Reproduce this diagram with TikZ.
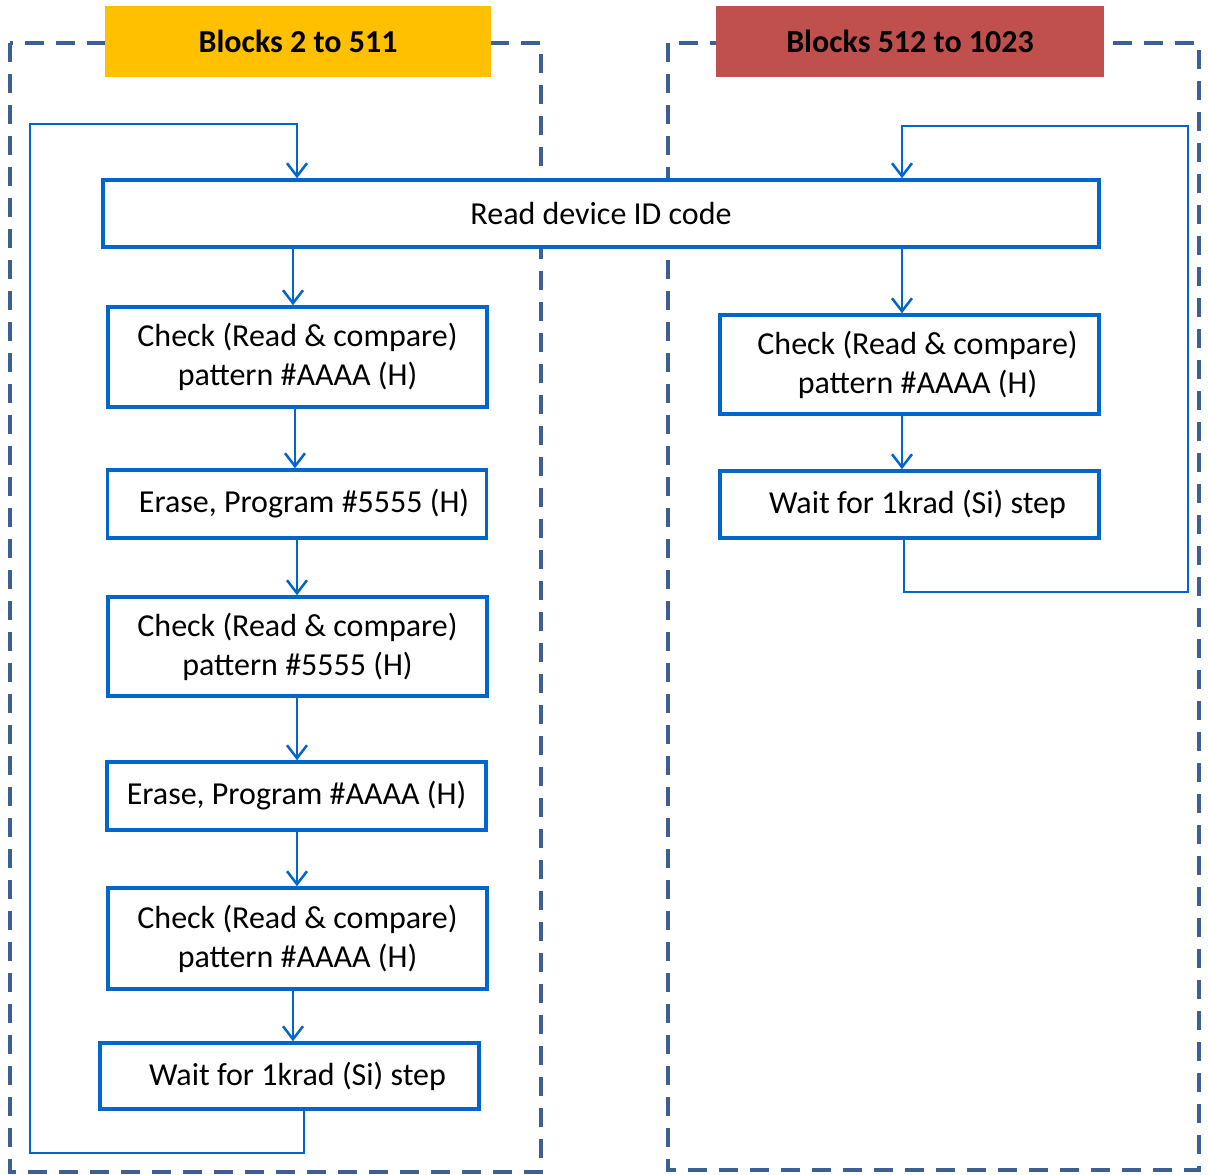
\documentclass[tikz,border=0pt]{standalone}
\usepackage{fontspec}
\setmainfont{Carlito}
\usetikzlibrary{arrows.meta}
\definecolor{flowblue}{RGB}{0,102,204}
\definecolor{frameblue}{RGB}{62,95,145}
\definecolor{headyellow}{RGB}{255,192,0}
\definecolor{headred}{RGB}{192,80,77}

\begin{document}
\begin{tikzpicture}[x=1pt, y=-1pt,
    font=\fontsize{32}{39}\selectfont,
    stepbox/.style={rectangle, draw=flowblue, fill=white, line width=3.5pt,
                    align=center, inner sep=0pt, minimum width=379pt},
    header/.style={rectangle, inner sep=0pt, minimum height=71pt,
                   font=\fontsize{32}{39}\selectfont\bfseries},
    frame/.style={draw=frameblue, line width=4.5pt, dash pattern=on 19pt off 12pt},
    arrow/.style={-{Straight Barb[length=13pt, width=20pt]}, draw=flowblue, line width=2.5pt}
]
\useasboundingbox (0,0) rectangle (1208,1175);

% dashed block frames
\draw[frame] (10,43) rectangle (541,1172);
\draw[frame] (668,43) rectangle (1199,1170);

\node[header, fill=headyellow, minimum width=386pt] (hleft) at (298,41.5) {Blocks 2 to 511};
\node[header, fill=headred, minimum width=388pt] (hright) at (910,41.5) {Blocks 512 to 1023};

\node[stepbox, minimum width=996pt, minimum height=67pt] (read) at (601,213.5) {Read device ID code};

% left column
\node[stepbox, minimum height=100pt] (l1) at (297.5,357) {Check (Read \& compare)\\pattern \#AAAA (H)};
\node[stepbox, minimum height=68pt] (l2) at (297,504) {\hspace{14pt}Erase, Program \#5555 (H)};
\node[stepbox, minimum height=99pt] (l3) at (297.5,646.5) {Check (Read \& compare)\\pattern \#5555 (H)};
\node[stepbox, minimum height=68pt] (l4) at (296.5,796) {Erase, Program \#AAAA (H)};
\node[stepbox, minimum height=101pt] (l5) at (297.5,938.5) {Check (Read \& compare)\\pattern \#AAAA (H)};
\node[stepbox, minimum height=66pt] (l6) at (289.5,1076) {\hspace{16pt}Wait for 1krad (Si) step};

% right column
\node[stepbox, minimum height=99pt] (r1) at (909.5,364.5) {\hspace{16pt}Check (Read \& compare)\\\hspace{16pt}pattern \#AAAA (H)};
\node[stepbox, minimum height=67pt] (r2) at (909.5,504.5) {\hspace{16pt}Wait for 1krad (Si) step};

\coordinate (lbot) at (30,1153);
\coordinate (ltop) at (297,124);
\coordinate (rbot) at (1188,592);
\coordinate (rtop) at (902,126);

\draw[arrow] (read.south -| 293,0) -- (l1.north -| 293,0);
\draw[arrow] (l1.south -| 295,0) -- (l2.north -| 295,0);
\draw[arrow] (l2.south -| 297,0) -- (l3.north -| 297,0);
\draw[arrow] (l3.south -| 297,0) -- (l4.north -| 297,0);
\draw[arrow] (l4.south -| 297,0) -- (l5.north -| 297,0);
\draw[arrow] (l5.south -| 293,0) -- (l6.north -| 293,0);
\draw[arrow] ([xshift=14.5pt]l6.south) |- (lbot) |- (ltop) -- (ltop |- read.north);

\draw[arrow] (read.south -| rtop) -- (r1.north -| rtop);
\draw[arrow] (r1.south -| rtop) -- (r2.north -| rtop);
\draw[arrow] ([xshift=-5.5pt]r2.south) |- (rbot) |- (rtop) -- (rtop |- read.north);

\end{tikzpicture}
\end{document}
